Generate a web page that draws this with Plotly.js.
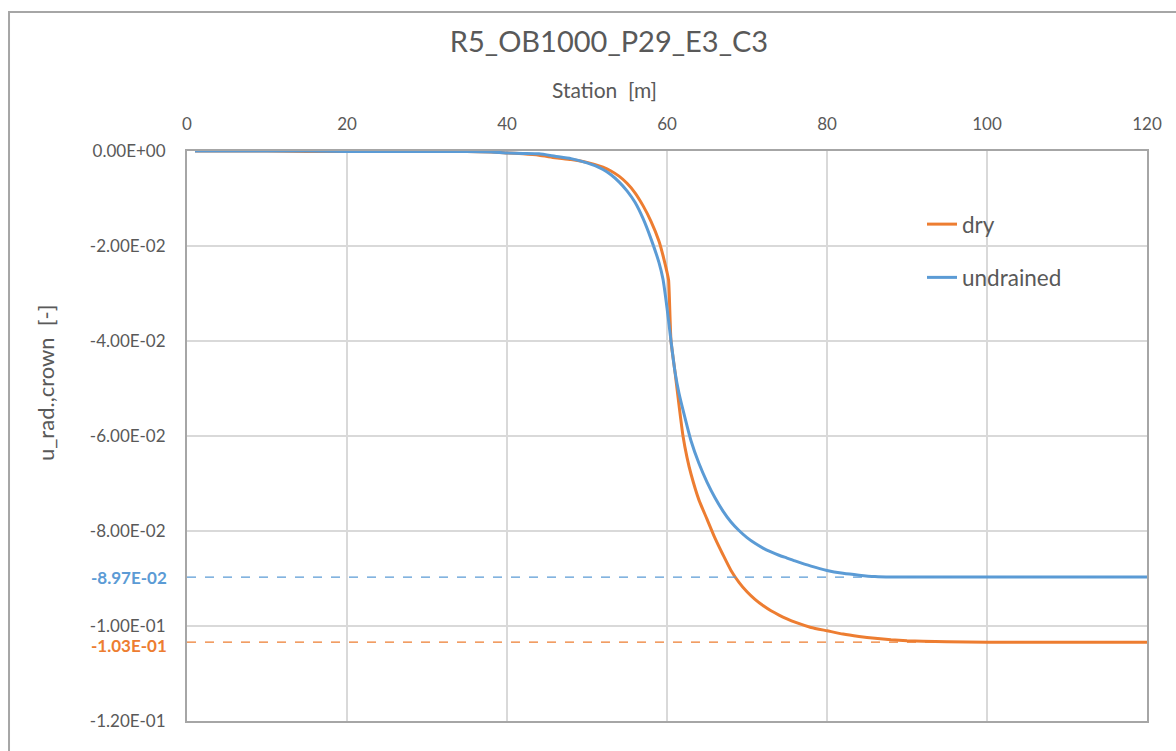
<!DOCTYPE html>
<html>
<head>
<meta charset="utf-8">
<script src="https://cdn.plot.ly/plotly-3.0.1.min.js"></script>
<style>
  html, body { margin: 0; padding: 0; background: #ffffff; }
  #chart { width: 1176px; height: 751px; }
</style>
</head>
<body>
<div id="chart"></div>
<script>
// Radial crown displacement along the tunnel axis
const chartTitle = 'R5_OB1000_P29_E3_C3';
const xTitle = 'Station\u00a0\u00a0[m]';
const yTitle = 'u_rad.,crown\u00a0\u00a0[-]';

const seriesNames = ['dry', 'undrained'];
const seriesColors = ['#ED7D31', '#5B9BD5'];

const stationDry = [1,5,10,15,20,25,30,35,38,40,42,44,46,48,50,52,53,54,55,56,57,58,59,59.5,60,60.2,60.5,61,61.5,62,62.5,63,64,65,66,67,68,69,70,71,72,73,74,75,76,78,80,82,84,86,88,90,92,95,100,103,110,115,120];
const uDry = [0,0,0,-0.0001,-0.0001,-0.0001,-0.0001,-0.0001,-0.0002,-0.0004,-0.0006,-0.0009,-0.0014,-0.0018,-0.0024,-0.0034,-0.0042,-0.0053,-0.0068,-0.0088,-0.0115,-0.0148,-0.0190,-0.0220,-0.0255,-0.0272,-0.0400,-0.0465,-0.0535,-0.0600,-0.0645,-0.0680,-0.0735,-0.0775,-0.0815,-0.0850,-0.0883,-0.0908,-0.0928,-0.0944,-0.0957,-0.0968,-0.0977,-0.0985,-0.0992,-0.1003,-0.1010,-0.1017,-0.1022,-0.1026,-0.1029,-0.1031,-0.1032,-0.1033,-0.1034,-0.1034,-0.1034,-0.1034,-0.1034];

const stationUndrained = [1,5,10,15,20,25,30,35,38,40,42,44,46,48,50,51,52,53,54,55,56,57,58,59,59.5,60,60.5,61,61.5,62,63,64,65,66,67,68,69,70,71,72,73,74,75,76,78,80,82,84,86,88,90,95,100,105,110,115,120];
const uUndrained = [0,0,0,0,-0.0001,-0.0001,-0.0001,-0.0001,-0.0002,-0.0004,-0.0005,-0.0006,-0.0011,-0.0016,-0.0025,-0.0031,-0.0039,-0.0050,-0.0065,-0.0084,-0.0108,-0.0142,-0.0185,-0.0235,-0.0270,-0.0330,-0.0400,-0.0465,-0.0510,-0.0545,-0.0610,-0.0658,-0.0697,-0.0730,-0.0758,-0.0781,-0.0799,-0.0814,-0.0826,-0.0836,-0.0844,-0.0851,-0.0857,-0.0863,-0.0874,-0.0883,-0.0889,-0.0893,-0.0896,-0.0897,-0.0897,-0.0897,-0.0897,-0.0897,-0.0897,-0.0897,-0.0897];

const xTickVals = [0,20,40,60,80,100,120];
const yTickVals = [0,-0.02,-0.04,-0.06,-0.08,-0.10,-0.12];

// Excel-like scientific notation: -2.00E-02
function sci(v) {
  if (v === 0) return '0.00E+00';
  const parts = v.toExponential(2).split('e');
  const e = parseInt(parts[1], 10);
  const es = (e < 0 ? '-' : '+') + String(Math.abs(e)).padStart(2, '0');
  return parts[0] + 'E' + es;
}

const font = 'Lato, "Open Sans", sans-serif';
const textColor = '#595959';

const finals = [uDry[uDry.length - 1], uUndrained[uUndrained.length - 1]];
const finalLabelShift = [-3, 0];

const traces = [
  { x: stationDry, y: uDry, name: seriesNames[0], legendgroup: 'a' },
  { x: stationUndrained, y: uUndrained, name: seriesNames[1], legendgroup: 'b' }
].map((t, i) => Object.assign(t, {
  type: 'scatter', mode: 'lines',
  line: { color: seriesColors[i], width: 3, shape: 'spline', smoothing: 0.5 },
  hoverinfo: 'x+y'
}));

const shapes = [
  // outer chart frame
  { type: 'rect', xref: 'paper', yref: 'paper', x0: -0.1854, x1: 1.2, y0: -0.2, y1: 1.2439,
    line: { color: '#a6a6a6', width: 2 }, fillcolor: 'rgba(0,0,0,0)', layer: 'below' }
];
finals.forEach((v, i) => shapes.push({
  type: 'line', xref: 'paper', yref: 'y', x0: 0, x1: 1, y0: v, y1: v,
  line: { color: seriesColors[i], width: 1.2, dash: 'dash' }, layer: 'above'
}));

const annotations = [
  { text: xTitle, xref: 'paper', yref: 'paper', x: (604 - 187) / 960, y: (721 - 89) / 570,
    xanchor: 'center', yanchor: 'middle', showarrow: false,
    font: { family: font, size: 21, color: textColor } },
  { text: yTitle, xref: 'paper', yref: 'paper', x: (45 - 187) / 960, y: (721 - 383) / 570,
    xanchor: 'center', yanchor: 'middle', textangle: -90, showarrow: false,
    font: { family: font, size: 22, color: textColor } }
];
finals.forEach((v, i) => annotations.push({
  text: '<b>' + sci(v) + '</b>', xref: 'paper', yref: 'y', x: 0, y: v, xshift: -18,
  yshift: finalLabelShift[i],
  xanchor: 'right', yanchor: 'middle', showarrow: false,
  font: { family: font, size: 17, color: seriesColors[i] }
}));

const layout = {
  width: 1176, height: 751,
  margin: { l: 187, r: 29, t: 151, b: 30 },
  paper_bgcolor: '#ffffff', plot_bgcolor: '#ffffff',
  font: { family: font, color: textColor },
  title: { text: chartTitle, xref: 'container', yref: 'container', x: 609 / 1176, y: 1 - 42 / 751,
    xanchor: 'center', yanchor: 'middle', font: { family: font, size: 29, color: textColor } },
  xaxis: {
    side: 'top', range: [0, 120], tickvals: xTickVals, ticktext: xTickVals.map(String),
    showgrid: true, gridcolor: '#d9d9d9', gridwidth: 1.5,
    showline: true, linecolor: '#a6a6a6', linewidth: 2, mirror: true,
    ticks: '', ticklabelstandoff: 12, zeroline: false,
    tickfont: { family: font, size: 17, color: textColor }
  },
  yaxis: {
    range: [-0.12, 0], tickvals: yTickVals, ticktext: yTickVals.map(sci),
    showgrid: true, gridcolor: '#d9d9d9', gridwidth: 1.5,
    showline: true, linecolor: '#a6a6a6', linewidth: 2, mirror: true,
    ticks: '', ticklabelstandoff: 16, zeroline: false,
    tickfont: { family: font, size: 17, color: textColor }
  },
  showlegend: true,
  legend: {
    x: (922 - 187) / 960, y: (721 - 203) / 570, xanchor: 'left', yanchor: 'top',
    bgcolor: 'rgba(0,0,0,0)', borderwidth: 0, tracegroupgap: 21,
    font: { family: font, size: 22.5, color: textColor }
  },
  shapes: shapes,
  annotations: annotations
};

Plotly.newPlot('chart', traces, layout, { displayModeBar: false, staticPlot: true });
</script>
</body>
</html>
